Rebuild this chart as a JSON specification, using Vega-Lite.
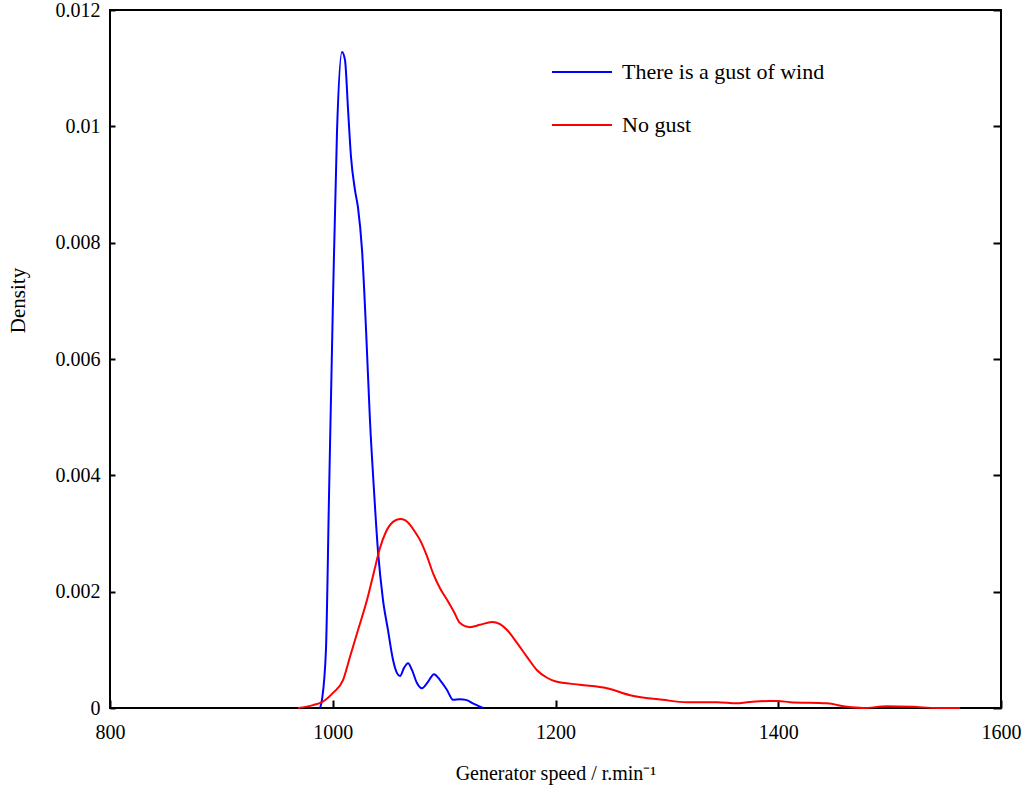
{
  "$schema": "https://vega.github.io/schema/vega-lite/v6.json",
  "autosize": {"type": "none"},
  "width": 891,
  "height": 698,
  "padding": {"left": 110, "top": 10, "right": 25, "bottom": 82},
  "background": "white",
  "config": {
    "view": {"stroke": "black", "strokeWidth": 2},
    "font": "Liberation Serif",
    "axis": {"grid": false, "domain": false, "labelFlush": false, "labelFont": "Liberation Serif", "titleFont": "Liberation Serif", "labelColor": "black", "titleColor": "black", "titleFontWeight": "normal", "tickColor": "black", "tickWidth": 2}
  },
  "datasets": {
    "curves": [
      {"speed": 988.6, "density": 0, "series": "There is a gust of wind"},
      {"speed": 990.3, "density": 0.00014, "series": "There is a gust of wind"},
      {"speed": 993.9, "density": 0.001, "series": "There is a gust of wind"},
      {"speed": 996.6, "density": 0.0036, "series": "There is a gust of wind"},
      {"speed": 1000.2, "density": 0.007, "series": "There is a gust of wind"},
      {"speed": 1003.8, "density": 0.0099, "series": "There is a gust of wind"},
      {"speed": 1008.3, "density": 0.01128, "series": "There is a gust of wind"},
      {"speed": 1011.0, "density": 0.01114, "series": "There is a gust of wind"},
      {"speed": 1013.7, "density": 0.0103, "series": "There is a gust of wind"},
      {"speed": 1016.4, "density": 0.00947, "series": "There is a gust of wind"},
      {"speed": 1020.0, "density": 0.0089, "series": "There is a gust of wind"},
      {"speed": 1022.7, "density": 0.0086, "series": "There is a gust of wind"},
      {"speed": 1026.3, "density": 0.00787, "series": "There is a gust of wind"},
      {"speed": 1029.9, "density": 0.0065, "series": "There is a gust of wind"},
      {"speed": 1033.4, "density": 0.00495, "series": "There is a gust of wind"},
      {"speed": 1037.0, "density": 0.00375, "series": "There is a gust of wind"},
      {"speed": 1040.6, "density": 0.0027, "series": "There is a gust of wind"},
      {"speed": 1045.1, "density": 0.00186, "series": "There is a gust of wind"},
      {"speed": 1049.6, "density": 0.00134, "series": "There is a gust of wind"},
      {"speed": 1054.1, "density": 0.00083, "series": "There is a gust of wind"},
      {"speed": 1057.7, "density": 0.0006, "series": "There is a gust of wind"},
      {"speed": 1060.4, "density": 0.00055, "series": "There is a gust of wind"},
      {"speed": 1064.0, "density": 0.00069, "series": "There is a gust of wind"},
      {"speed": 1067.6, "density": 0.00077, "series": "There is a gust of wind"},
      {"speed": 1071.2, "density": 0.00065, "series": "There is a gust of wind"},
      {"speed": 1075.6, "density": 0.00043, "series": "There is a gust of wind"},
      {"speed": 1080.1, "density": 0.00034, "series": "There is a gust of wind"},
      {"speed": 1085.5, "density": 0.00045, "series": "There is a gust of wind"},
      {"speed": 1090.9, "density": 0.00058, "series": "There is a gust of wind"},
      {"speed": 1096.3, "density": 0.00048, "series": "There is a gust of wind"},
      {"speed": 1102.6, "density": 0.00031, "series": "There is a gust of wind"},
      {"speed": 1108.0, "density": 0.00014, "series": "There is a gust of wind"},
      {"speed": 1114.3, "density": 0.00015, "series": "There is a gust of wind"},
      {"speed": 1119.6, "density": 0.00014, "series": "There is a gust of wind"},
      {"speed": 1126.8, "density": 0.00007, "series": "There is a gust of wind"},
      {"speed": 1134.9, "density": 0, "series": "There is a gust of wind"},
      {"speed": 968.8, "density": 0, "series": "No gust"},
      {"speed": 982.3, "density": 0.00005, "series": "No gust"},
      {"speed": 990.3, "density": 0.0001, "series": "No gust"},
      {"speed": 1000.2, "density": 0.00026, "series": "No gust"},
      {"speed": 1009.2, "density": 0.00048, "series": "No gust"},
      {"speed": 1015.5, "density": 0.00088, "series": "No gust"},
      {"speed": 1022.7, "density": 0.00134, "series": "No gust"},
      {"speed": 1030.8, "density": 0.00186, "series": "No gust"},
      {"speed": 1037.0, "density": 0.00234, "series": "No gust"},
      {"speed": 1042.4, "density": 0.00275, "series": "No gust"},
      {"speed": 1047.8, "density": 0.00303, "series": "No gust"},
      {"speed": 1054.1, "density": 0.0032, "series": "No gust"},
      {"speed": 1060.4, "density": 0.00325, "series": "No gust"},
      {"speed": 1064.9, "density": 0.00323, "series": "No gust"},
      {"speed": 1069.4, "density": 0.00315, "series": "No gust"},
      {"speed": 1073.8, "density": 0.00303, "series": "No gust"},
      {"speed": 1078.3, "density": 0.00289, "series": "No gust"},
      {"speed": 1084.6, "density": 0.00261, "series": "No gust"},
      {"speed": 1090.0, "density": 0.00232, "series": "No gust"},
      {"speed": 1096.3, "density": 0.00206, "series": "No gust"},
      {"speed": 1102.6, "density": 0.00186, "series": "No gust"},
      {"speed": 1108.9, "density": 0.00165, "series": "No gust"},
      {"speed": 1114.3, "density": 0.00146, "series": "No gust"},
      {"speed": 1123.2, "density": 0.00139, "series": "No gust"},
      {"speed": 1132.2, "density": 0.00143, "series": "No gust"},
      {"speed": 1143.0, "density": 0.00148, "series": "No gust"},
      {"speed": 1150.2, "density": 0.00144, "series": "No gust"},
      {"speed": 1156.5, "density": 0.00134, "series": "No gust"},
      {"speed": 1165.4, "density": 0.00112, "series": "No gust"},
      {"speed": 1174.4, "density": 0.00088, "series": "No gust"},
      {"speed": 1183.4, "density": 0.00065, "series": "No gust"},
      {"speed": 1192.4, "density": 0.00052, "series": "No gust"},
      {"speed": 1199.6, "density": 0.00046, "series": "No gust"},
      {"speed": 1222.0, "density": 0.0004, "series": "No gust"},
      {"speed": 1246.2, "density": 0.00034, "series": "No gust"},
      {"speed": 1266.9, "density": 0.00022, "series": "No gust"},
      {"speed": 1296.5, "density": 0.00014, "series": "No gust"},
      {"speed": 1318.1, "density": 0.0001, "series": "No gust"},
      {"speed": 1345.0, "density": 0.0001, "series": "No gust"},
      {"speed": 1363.0, "density": 0.00008, "series": "No gust"},
      {"speed": 1372.0, "density": 0.0001, "series": "No gust"},
      {"speed": 1392.6, "density": 0.00012, "series": "No gust"},
      {"speed": 1399.8, "density": 0.00012, "series": "No gust"},
      {"speed": 1410.5, "density": 0.0001, "series": "No gust"},
      {"speed": 1443.8, "density": 0.00008, "series": "No gust"},
      {"speed": 1461.7, "density": 0.00002, "series": "No gust"},
      {"speed": 1476.1, "density": 0, "series": "No gust"},
      {"speed": 1497.7, "density": 0.00003, "series": "No gust"},
      {"speed": 1521.0, "density": 0.00002, "series": "No gust"},
      {"speed": 1542.5, "density": 0, "series": "No gust"},
      {"speed": 1563.2, "density": 0, "series": "No gust"}
    ]
  },
  "data": {"name": "curves"},
  "layer": [
    {
      "mark": {"type": "line", "strokeWidth": 2, "interpolate": "monotone"},
      "encoding": {
        "x": {"field": "speed", "type": "quantitative", "scale": {"domain": [800, 1600], "nice": false, "zero": false},
          "axis": {"orient": "bottom", "values": [800, 1000, 1200, 1400, 1600], "format": "d", "tickSize": -8, "labelPadding": 22, "labelFontSize": 20, "title": "Generator speed / r.min⁻¹", "titleFontSize": 20, "titleY": 65, "titleBaseline": "middle"}},
        "y": {"field": "density", "type": "quantitative", "scale": {"domain": [0, 0.012], "nice": false},
          "axis": {"orient": "left", "values": [0, 0.002, 0.004, 0.006, 0.008, 0.01, 0.012], "format": "~g", "tickSize": -5, "labelPadding": 15, "labelFontSize": 20, "title": "Density", "titleFontSize": 21, "titleAngle": -90, "titleX": -92, "titleY": 290, "titleAlign": "center", "titleBaseline": "middle"}},
        "color": {"field": "series", "type": "nominal",
          "scale": {"domain": ["There is a gust of wind", "No gust"], "range": ["#0000FF", "#FF0000"]},
          "legend": {"title": null, "orient": "none", "legendX": 446, "legendY": 36, "padding": 0, "symbolType": "M-1.2,0H1.2", "symbolSize": 2500, "symbolStrokeWidth": 2, "rowPadding": 16, "labelFont": "Liberation Serif", "labelFontSize": 22, "labelColor": "black", "labelOffset": 14, "labelLimit": 0}}
      }
    },
    {
      "mark": {"type": "line", "strokeOpacity": 0},
      "encoding": {
        "x": {"field": "speed", "type": "quantitative", "scale": {"domain": [800, 1600], "nice": false, "zero": false}},
        "y": {"field": "density", "type": "quantitative", "scale": {"domain": [0, 0.012], "nice": false},
          "axis": {"orient": "right", "values": [0, 0.002, 0.004, 0.006, 0.008, 0.01, 0.012], "labels": false, "tickSize": -8, "title": null}},
        "detail": {"field": "series"}
      }
    }
  ],
  "resolve": {"scale": {"y": "independent"}}
}
